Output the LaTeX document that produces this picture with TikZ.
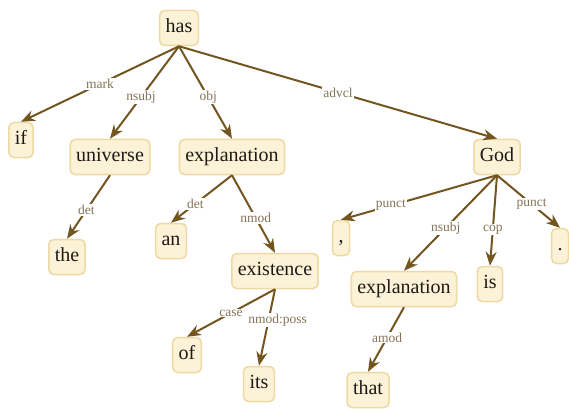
\documentclass[tikz,border=0pt]{standalone}
\usepackage{fontspec}
\setmainfont{Liberation Serif}
\usetikzlibrary{arrows.meta}
\definecolor{boxfill}{HTML}{FCF2D8}
\definecolor{boxline}{HTML}{EFD9A2}
\definecolor{edgecol}{HTML}{735520}
\definecolor{lblcol}{HTML}{857458}
\definecolor{wordcol}{HTML}{1E1A16}
\tikzset{
  word/.style={draw=boxline, fill=boxfill, line width=1.5pt, rounded corners=5pt,
    font=\fontsize{20}{22}\selectfont, text=wordcol, inner xsep=6pt, inner ysep=8pt,
    text height=14pt, text depth=5pt},
  dep/.style={draw=edgecol, line width=2pt, -{Stealth[length=14pt,width=11pt]}},
  lbl/.style={fill=white, inner sep=1pt, font=\fontsize{13.5}{14}\selectfont, text=lblcol}
}
\begin{document}
\begin{tikzpicture}[x=1pt,y=-1pt]
\useasboundingbox (0,0) rectangle (569,414);
\node[word] (has) at (179,28) {has};
\node[word] (if) at (21,140) {if};
\node[word] (universe) at (110,157) {universe};
\node[word] (expl1) at (232,157) {explanation};
\node[word] (the) at (67,257) {the};
\node[word] (an) at (171,241) {an};
\node[word] (existence) at (275,271) {existence};
\node[word] (of) at (187,355) {of};
\node[word] (its) at (259,384) {its};
\node[word] (god) at (497,157) {God};
\node[word] (comma) at (341,238) {,};
\node[word] (expl2) at (404,289) {explanation};
\node[word] (is) at (490,284) {is};
\node[word] (period) at (560,246) {.};
\node[word] (that) at (368,390) {that};

\draw[dep] (has.south) -- node[lbl,pos=0.5] {mark} (if.north);
\draw[dep] (has.south) -- node[lbl,pos=0.55] {nsubj} (universe.north);
\draw[dep] (has.south) -- node[lbl,pos=0.55] {obj} (expl1.north);
\draw[dep] (has.south) -- node[lbl,pos=0.5] {advcl} (god.north);
\draw[dep] (universe.south) -- node[lbl,pos=0.55] {det} (the.north);
\draw[dep] (expl1.south) -- node[lbl,pos=0.6] {det} (an.north);
\draw[dep] (expl1.south) -- node[lbl,pos=0.55] {nmod} (existence.north);
\draw[dep] (existence.south) -- node[lbl,pos=0.5] {case} (of.north);
\draw[dep] (existence.south) -- node[lbl,pos=0.4,xshift=9pt] {nmod:poss} (its.north);
\draw[dep] (god.south) -- node[lbl,pos=0.68] {punct} (comma.north);
\draw[dep] (god.south) -- node[lbl,pos=0.55] {nsubj} (expl2.north);
\draw[dep] (god.south) -- node[lbl,pos=0.6] {cop} (is.north);
\draw[dep] (god.south) -- node[lbl,pos=0.55] {punct} (period.north);
\draw[dep] (expl2.south) -- node[lbl,pos=0.47] {amod} (that.north);
\end{tikzpicture}
\end{document}
